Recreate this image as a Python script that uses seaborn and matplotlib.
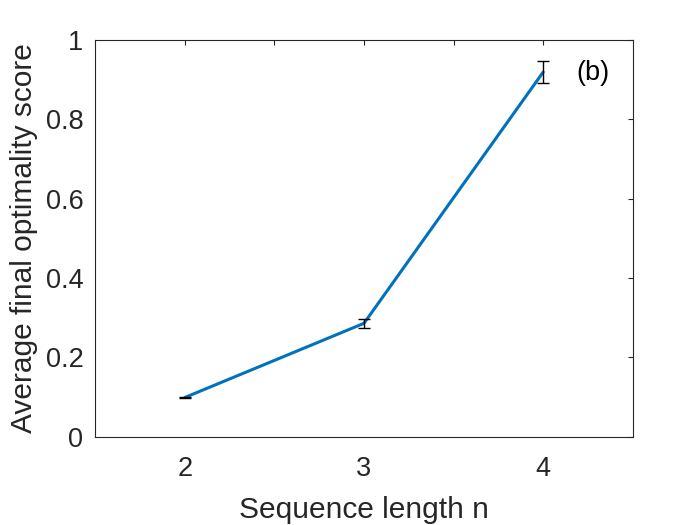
import numpy as np
import pandas as pd
import seaborn as sns
import matplotlib.pyplot as plt

# Data
seq_len = [2, 3, 4]
avg_score = [0.099, 0.286, 0.919]
score_err = [0.001, 0.011, 0.027]

df = pd.DataFrame({"n": seq_len, "score": avg_score, "err": score_err})

sns.set_theme(style="white")
plt.rcParams['font.family'] = ['Liberation Sans', 'DejaVu Sans']

fig, ax = plt.subplots(figsize=(7, 5.25), dpi=100)
fig.subplots_adjust(left=0.136, right=0.904, top=0.924, bottom=0.168)

sns.lineplot(data=df, x="n", y="score", ax=ax, color="#0072BD", linewidth=2.2)
ax.errorbar(df["n"], df["score"], yerr=df["err"], fmt="none",
            ecolor="black", elinewidth=1, capsize=4, capthick=1)

ax.set_xlim(1.5, 4.5)
ax.set_ylim(0, 1)
ax.set_xticks([2, 2.5, 3, 3.5, 4])
ax.set_xticklabels(["2", "", "3", "", "4"])
ax.set_yticks([0, 0.2, 0.4, 0.6, 0.8, 1])
ax.set_yticklabels(["0", "0.2", "0.4", "0.6", "0.8", "1"])
ax.tick_params(direction="in", top=True, right=True, length=3.7, width=0.8,
               labelsize=19.5, colors="#262626")
ax.tick_params(axis="x", pad=13.5)
ax.tick_params(axis="y", pad=8.5)
for s in ax.spines.values():
    s.set_color("#262626")
    s.set_linewidth(0.8)

ax.set_xlabel("Sequence length n", fontsize=21.5, color="#262626", labelpad=10.5)
ax.set_ylabel("Average final optimality score", fontsize=21.5, color="#262626", labelpad=5.5)
ax.text(4.183, 0.917, "(b)", fontsize=19.5, color="black", va="center")

fig.savefig("out.png", dpi=100)
